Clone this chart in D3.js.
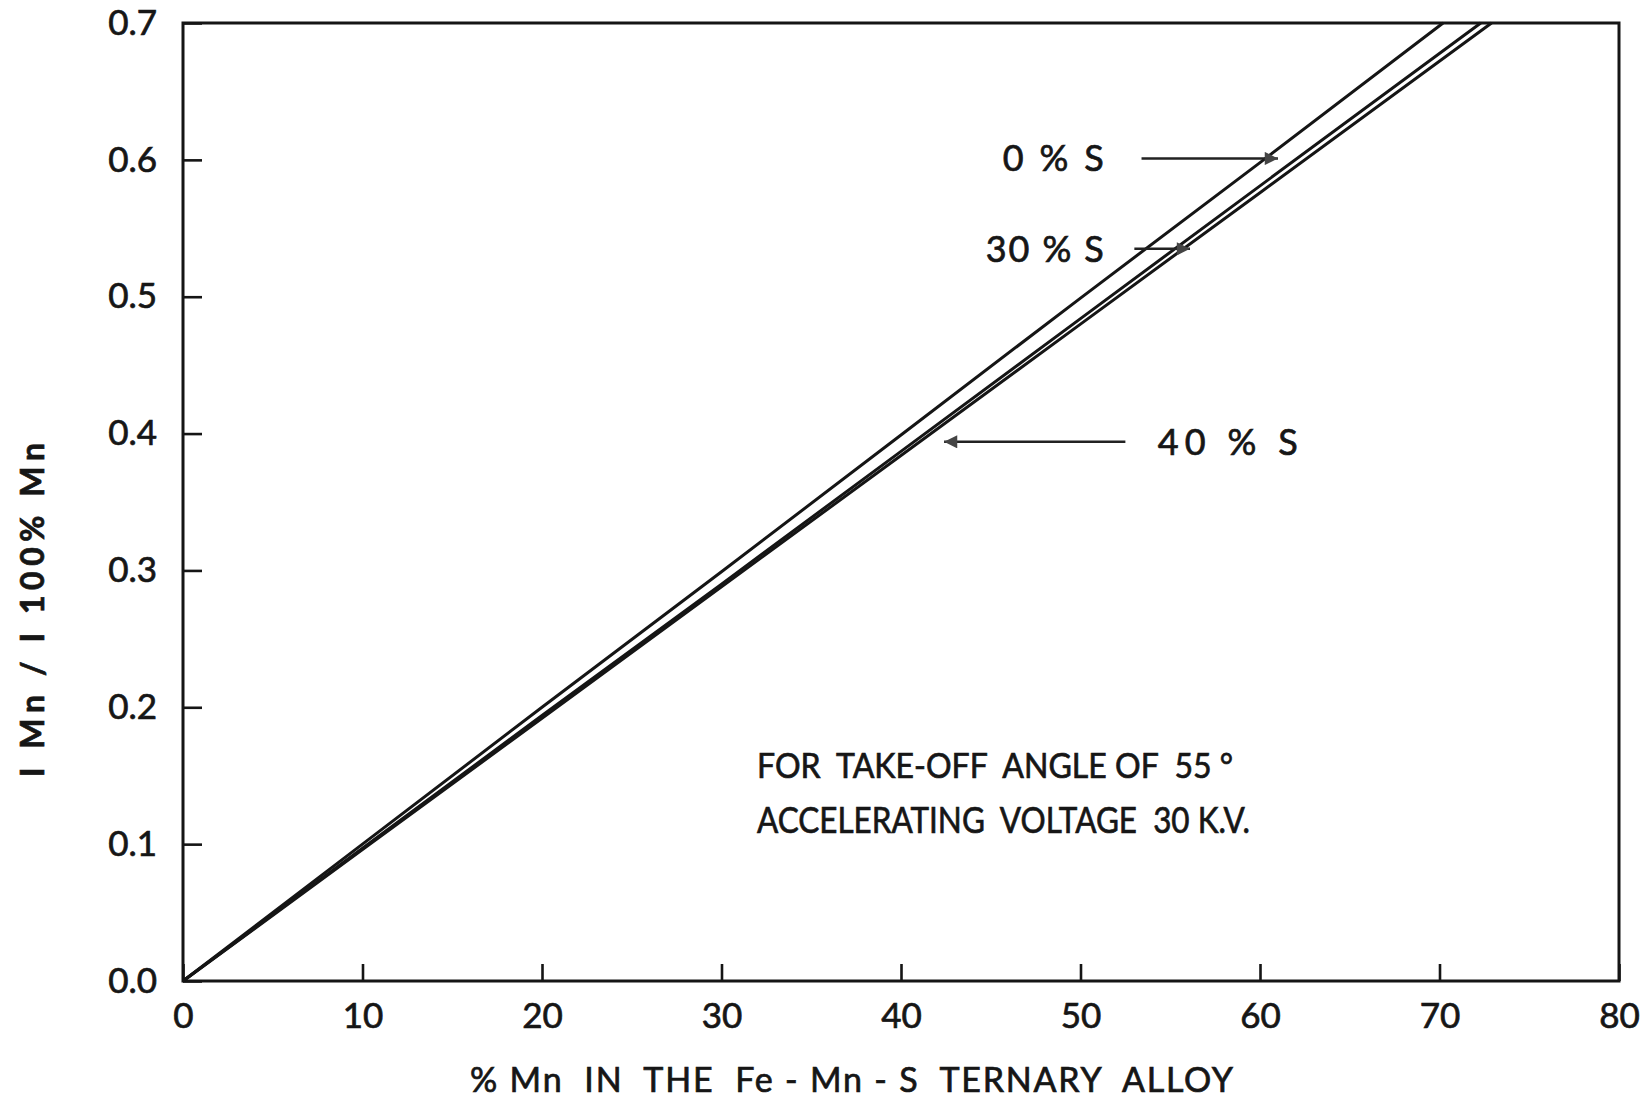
<html>
<head>
<style>
  body { margin: 0; background: #fff; }
  svg { display: block; }
  .chart text { font-family: Lato, "Noto Sans", sans-serif; fill: #161616; stroke: #161616; stroke-width: 0.7; }
  .axis path { stroke: #151515; stroke-width: 3; fill: none; }
  .axis line { stroke: #151515; stroke-width: 2.6; }
  .curve { fill: none; stroke: #151515; stroke-width: 3; }
  .arrow { stroke: #222; stroke-width: 2.4; }
</style>
</head>
<body>
<svg class="chart" width="1648" height="1098"></svg>
<script src="https://d3js.org/d3.v7.min.js"></script>
<script>
// % Mn in alloy vs relative intensity
var xTicks = [0, 10, 20, 30, 40, 50, 60, 70, 80];
var yTicks = [0, 0.1, 0.2, 0.3, 0.4, 0.5, 0.6, 0.7];

var s0 = [[0, 0], [10, 0.100], [20, 0.200], [30, 0.299], [40, 0.399], [50, 0.499], [60, 0.598], [70.2, 0.700]];
var s30 = [[0, 0], [10, 0.097], [20, 0.194], [30, 0.290], [40, 0.387], [50, 0.484], [60, 0.581], [72.3, 0.700]];
var s40 = [[0, 0], [10, 0.096], [20, 0.192], [30, 0.288], [40, 0.384], [50, 0.480], [60, 0.576], [72.9, 0.700]];

// labels: text position, arrow tail and tip, all in data units
var labels = [
  { text: "0 % S",  tx: 51.3, tail: [53.4, 0.601], tip: [61.0, 0.601], len: 101, anchor: "end" },
  { text: "30 % S", tx: 51.3, tail: [53.0, 0.535], tip: [56.1, 0.535], len: 118, anchor: "end" },
  { text: "40 % S", tx: 54.3, tail: [52.5, 0.394], tip: [42.4, 0.394], len: 140, anchor: "start" }
];

var note = ["FOR  TAKE-OFF  ANGLE OF  55 \u00b0", "ACCELERATING  VOLTAGE  30 K.V."];

var mLeft = 183, mTop = 23, mRight = 1619, mBottom = 981;

var x = d3.scaleLinear().domain([0, 80]).range([mLeft, mRight]);
var y = d3.scaleLinear().domain([0, 0.7]).range([mBottom, mTop]);

var chart = d3.select('.chart');

chart.append('defs').append('marker')
  .attr('id', 'head')
  .attr('viewBox', '0 0 10 10')
  .attr('refX', 10).attr('refY', 5)
  .attr('markerWidth', 9.5).attr('markerHeight', 5.5)
  .attr('markerUnits', 'strokeWidth')
  .attr('orient', 'auto')
  .append('path')
  .attr('d', 'M0,0 L10,5 L0,10 z')
  .style('fill', '#444');

// frame
chart.append('rect')
  .attr('x', mLeft).attr('y', mTop)
  .attr('width', mRight - mLeft).attr('height', mBottom - mTop)
  .style('fill', 'none').style('stroke', '#151515').style('stroke-width', 3);

chart.append('g')
  .attr('class', 'axis')
  .attr('transform', 'translate(0,' + mBottom + ')')
  .call(d3.axisBottom(x).tickValues(xTicks).tickSize(-17).tickPadding(22).tickFormat(d3.format('d')))
  .selectAll('text').style('font-size', '35px');

chart.append('g')
  .attr('class', 'axis')
  .attr('transform', 'translate(' + mLeft + ',0)')
  .call(d3.axisLeft(y).tickValues(yTicks).tickSize(-19).tickPadding(26).tickFormat(d3.format('.1f')))
  .selectAll('text').style('font-size', '35px');

chart.selectAll('.domain').remove();

var line = d3.line()
  .x(function(d) { return x(d[0]); })
  .y(function(d) { return y(d[1]); });

[s0, s30, s40].forEach(function(s) {
  chart.append('path').attr('class', 'curve').attr('d', line(s));
});

labels.forEach(function(l) {
  chart.append('line')
    .attr('class', 'arrow')
    .attr('x1', x(l.tail[0])).attr('y1', y(l.tail[1]))
    .attr('x2', x(l.tip[0])).attr('y2', y(l.tip[1]))
    .attr('marker-end', 'url(#head)');
  chart.append('text')
    .attr('x', x(l.tx))
    .attr('y', y(l.tail[1]))
    .attr('dy', '0.36em')
    .attr('text-anchor', l.anchor)
    .attr('textLength', l.len)
    .style('font-size', '36px')
    .text(l.text);
});

chart.selectAll('.note')
  .data(note)
  .enter().append('text')
  .attr('class', 'note')
  .attr('x', 757)
  .attr('y', function(d, i) { return 778 + i * 55; })
  .attr('textLength', function(d, i) { return i == 0 ? 476 : 493; })
  .attr('lengthAdjust', 'spacingAndGlyphs')
  .attr('xml:space', 'preserve')
  .style('font-size', function(d, i) { return i == 0 ? '34px' : '37px'; })
  .text(function(d) { return d; });

chart.append('text')
  .attr('x', 470).attr('y', 1092)
  .attr('textLength', 763)
  .attr('xml:space', 'preserve')
  .style('font-size', '34px')
  .text('% Mn  IN  THE  Fe - Mn - S  TERNARY  ALLOY');

chart.append('text')
  .attr('transform', 'translate(44,610) rotate(-90)')
  .attr('text-anchor', 'middle')
  .attr('textLength', 334)
  .style('font-size', '32px')
  .style('font-weight', 'bold')
  .text('I Mn / I 100% Mn');
</script>
</body>
</html>
